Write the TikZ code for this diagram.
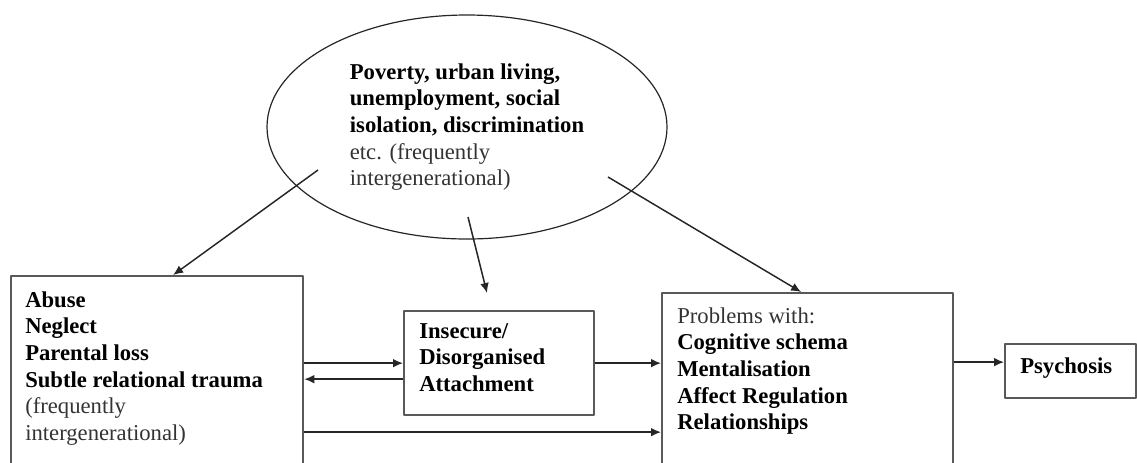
\documentclass[tikz,border=0pt]{standalone}
\usepackage{fontspec}
\setmainfont{Liberation Serif}
\usetikzlibrary{shapes.geometric,positioning,arrows.meta}
\begin{document}
\begin{tikzpicture}[x=0.75pt,y=-0.75pt,>={Latex[length=7.5pt,width=6.5pt]}, line join=round, font=\fontsize{17}{20}\selectfont,
	box/.style={draw=black!65,line width=1.7pt,rectangle,inner sep=0pt,anchor=north west},
	txt/.style={align=left,inner sep=0pt,anchor=north west},
	arr/.style={->,line width=1.1pt,black!85}]
	\useasboundingbox (0,0) rectangle (1137,462);
	\clip (0,0) rectangle (1137,462);
	% Kasten
	\node[box,minimum width=292*0.75pt,minimum height=200*0.75pt] (trauma) at (10,275) {};
	\node[box,minimum width=190*0.75pt,minimum height=104*0.75pt] (att) at (403,310) {};
	\node[box,minimum width=291*0.75pt,minimum height=190*0.75pt] (prob) at (661,292) {};
	\node[box,minimum width=131*0.75pt,minimum height=54*0.75pt] (psy) at (1004,343) {};
	\node[ellipse,draw=black!85,line width=0.9pt,minimum width=300pt,minimum height=168pt,inner sep=0pt,align=left] (env) at (467,127)
		{\textbf{Poverty, urban living,}\\ \textbf{unemployment, social}\\ \textbf{isolation, discrimination}\\
		 \textcolor{black!80}{etc. (frequently}\\ \textcolor{black!80}{intergenerational)}};
	% Texte
	\node[txt] (traumatext) at (25,291) {\textbf{Abuse}\\ \textbf{Neglect}\\ \textbf{Parental loss}\\ \textbf{Subtle relational trauma}\\
		\textcolor{black!80}{(frequently}\\ \textcolor{black!80}{intergenerational)}};
	\node[txt] (atttext) at (419,323) {\textbf{Insecure/}\\ \textbf{Disorganised}\\ \textbf{Attachment}};
	\node[txt] (probtext) at (677,307) {\textcolor{black!80}{Problems with:}\\ \textbf{Cognitive schema}\\ \textbf{Mentalisation}\\
		\textbf{Affect Regulation}\\ \textbf{Relationships}};
	\node[txt] (psytext) at (1020,357) {\textbf{Psychosis}};
	% Pfeile
	\coordinate (e1) at (318,170);
	\coordinate (e2) at (468,217);
	\coordinate (e2end) at (487,293);
	\coordinate (e3) at (608,177);
	\draw[arr] (e1) -- ([xshift=12pt]trauma.north);
	\draw[arr] (e2) -- (e2end);
	\draw[arr] (e3) -- ([xshift=-4.9pt]prob.north);
	\draw[arr] (trauma.east |- att.west) -- (att.west);
	\coordinate (back) at ([yshift=-12pt]att.west);
	\draw[arr] (back) -- (back -| trauma.east);
	\draw[arr] (att.east) -- (att.east -| prob.west);
	\coordinate (low) at ([yshift=-51.75pt]att.west);
	\draw[arr] (low -| trauma.east) -- (low -| prob.west);
	\coordinate (pin) at ([yshift=6.75pt]psy.west);
	\draw[arr] (pin -| prob.east) -- (pin);
\end{tikzpicture}
\end{document}
